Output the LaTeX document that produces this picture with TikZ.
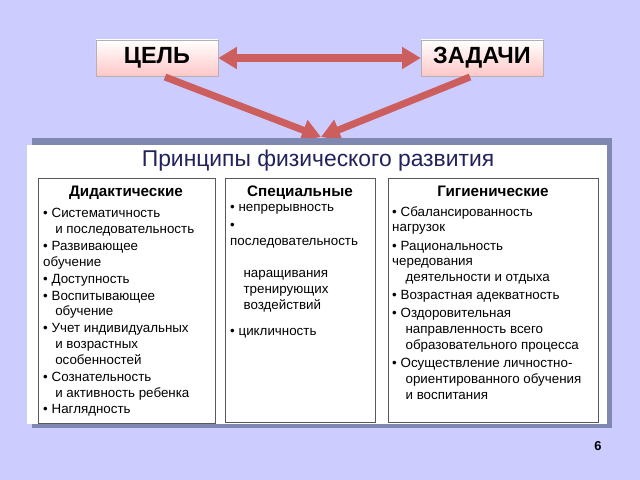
\documentclass[tikz,border=0pt]{standalone}
\usepackage{fontspec}
\setmainfont{Liberation Sans}
\usetikzlibrary{arrows.meta,positioning}
\definecolor{bgblue}{HTML}{CCCCFF}
\definecolor{shadowblue}{HTML}{7F88B0}
\definecolor{titlenavy}{HTML}{22225A}
\definecolor{arrowred}{HTML}{CC5E5E}
\tikzset{
  x=0.03cm, y=-0.03cm,
  goalbox/.style = {draw=gray!60, top color=white, bottom color=red!22,
    minimum width=3.66cm, minimum height=1.08cm, font=\fontsize{20}{20}\selectfont\bfseries},
  fatarrow/.style = {line width=6pt, color=arrowred,
    -{Triangle[width=18pt,length=16pt]}},
  coltext/.style = {anchor=north west, align=left, inner sep=0pt,
    font=\fontsize{11.4}{13.5}\selectfont},
  colhead/.style = {font=\fontsize{13}{13}\selectfont\bfseries},
}
\begin{document}
\begin{tikzpicture}
\fill[bgblue] (0,0) rectangle (640,480);
% goal and tasks
\node[goalbox] (goal) at (157,58) {ЦЕЛЬ};
\node[goalbox] (tasks) at (482,58) {ЗАДАЧИ};
\draw[fatarrow, {Triangle[width=18pt,length=16pt]}-{Triangle[width=18pt,length=16pt]}]
  (goal.east) -- (tasks.west);
\coordinate (meet) at (321,137);
\draw[fatarrow] (165,77) -- (meet);
\draw[fatarrow] (470,77) -- (meet);
% main panel
\fill[shadowblue] (32,138) rectangle (612,428);
\fill[white] (27,145) rectangle (607,424);
\node[font=\fontsize{19.5}{19.5}\selectfont, text=titlenavy] (title) at (318,161)
  {Принципы физического развития};
% columns
\draw[gray!70!black, fill=white] (38,178) rectangle (215,423);
\draw[gray!70!black, fill=white] (225,178) rectangle (375,422);
\draw[gray!70!black, fill=white] (388,178) rectangle (598,422);
\node[colhead] (didhead) at (126,193) {Дидактические};
\node[colhead] (spechead) at (300,193) {Специальные};
\node[colhead] (hyghead) at (493,191) {Гигиенические};
\node[coltext] (didtext) at (43,208) {%
• Систематичность\\
\hspace*{0.9em}и последовательность\\[1pt]
• Развивающее\\
обучение\\[1pt]
• Доступность\\[1pt]
• Воспитывающее\\
\hspace*{0.9em}обучение\\[1pt]
• Учет индивидуальных\\
\hspace*{0.9em}и возрастных\\
\hspace*{0.9em}особенностей\\[1pt]
• Сознательность\\
\hspace*{0.9em}и активность ребенка\\
• Наглядность};
\node[coltext] (spectext) at (230,204) {%
• непрерывность\\[2pt]
•\\
последовательность\\[14pt]
\hspace*{1em}наращивания\\
\hspace*{1em}тренирующих\\
\hspace*{1em}воздействий\\[9pt]
• цикличность};
\node[coltext] (hygtext) at (392,206) {%
• Сбалансированность\\
нагрузок\\[2pt]
• Рациональность\\
чередования\\
\hspace*{1em}деятельности и отдыха\\[2pt]
• Возрастная адекватность\\[2pt]
• Оздоровительная\\
\hspace*{1em}направленность всего\\
\hspace*{1em}образовательного процесса\\[2pt]
• Осуществление личностно-\\
\hspace*{1em}ориентированного обучения\\
\hspace*{1em}и воспитания};
\node[font=\fontsize{11}{11}\selectfont\bfseries] (pagenum) at (598,446) {6};
\end{tikzpicture}
\end{document}
